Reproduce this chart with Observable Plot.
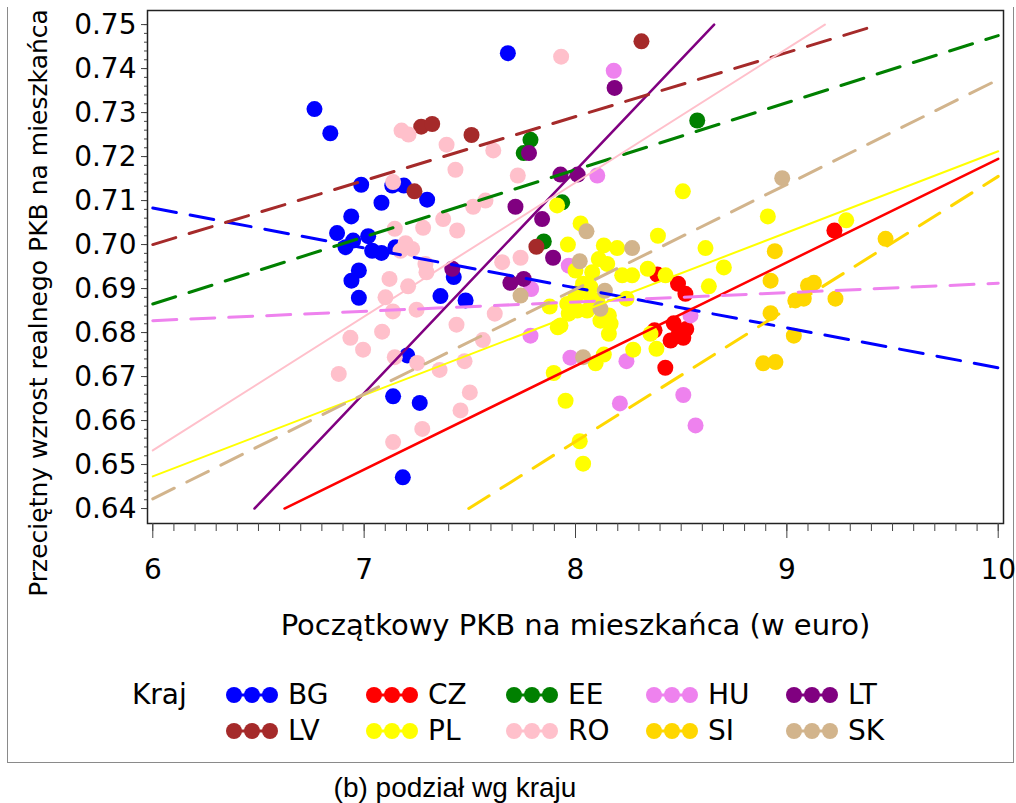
<!DOCTYPE html>
<html>
<head>
<meta charset="utf-8">
<script src="https://cdn.jsdelivr.net/npm/d3@7"></script>
<script src="https://cdn.jsdelivr.net/npm/@observablehq/plot@0.6"></script>
<style>
  body { margin: 0; background: #fff; }
  #page { position: relative; width: 1016px; height: 803px; overflow: hidden; background: #fff;
          font-family: "DejaVu Sans", Verdana, sans-serif; color: #000; }
  #box { position: absolute; left: 7px; top: 7px; width: 1005px; height: 755px;
         border: 1.5px solid #8a8a8a; border-top: none; }
  #chart { position: absolute; left: 0; top: 0; }
  .leg { position: absolute; height: 32px; line-height: 32px; font-size: 28px; white-space: nowrap;
         display: flex; align-items: center; }
  .leg svg { margin-right: 10px; }
  #caption { position: absolute; left: 0; width: 910px; top: 774px; text-align: center;
             font-family: "Liberation Sans", Arial, sans-serif; font-size: 28px; line-height: 28px; }
</style>
</head>
<body>
<div id="page">
  <div id="box"></div>
  <div id="chart"></div>
  <div id="legend"></div>
  <div id="caption">(b) podział wg kraju</div>
</div>
<script>
// Countries, their colours and whether the fitted line is dashed
const countries = ["BG", "CZ", "EE", "HU", "LT", "LV", "PL", "RO", "SI", "SK"];
const colors = ["#0000FF", "#FF0000", "#008000", "#EE82EE", "#800080",
                "#A52A2A", "#FFFF00", "#FFC0CB", "#FFD700", "#D2B48C"];
const dashed = [true, false, true, true, false, true, false, false, true, true];
const lineWidth = [3, 2.5, 3, 3, 2.5, 3, 2, 2, 3, 3];

// Observations: [initial GDP per capita, average real growth]
const BG = [[7.68,.7435],[6.765,.7308],[6.84,.7253],[6.986,.7136],[7.133,.7134],[7.188,.7134],
  [7.082,.7095],[7.298,.7102],[6.939,.7064],[6.872,.7026],[7.019,.7019],[6.948,.7009],
  [6.912,.6994],[7.038,.6986],[7.082,.6981],[7.148,.6994],[6.975,.6941],[6.94,.6918],
  [6.975,.6879],[7.424,.6926],[7.361,.6883],[7.48,.6873],[7.204,.6748],[7.137,.6655],
  [7.263,.664],[7.183,.6471]];
const CZ = [[9.225,.7032],[8.387,.6932],[8.485,.6911],[8.52,.6888],[8.465,.6821],[8.524,.6808],
  [8.45,.6782],[8.51,.6788],[8.374,.6805],[8.425,.672],[8.49,.6800]];
const EE = [[8.576,.7282],[7.787,.7238],[7.755,.7208],[7.937,.7096],[7.85,.7007]];
const HU = [[8.181,.7395],[8.103,.7157],[7.976,.6743],[8.241,.6735],[8.544,.6839],[8.21,.6639],
  [8.51,.6658],[8.568,.6589],[7.787,.6793],[7.79,.6899],[7.968,.6952]];
const LT = [[8.185,.7356],[7.78,.7208],[7.929,.7159],[8.01,.7159],[7.716,.7086],[7.842,.7058],
  [7.894,.697],[7.417,.6945],[7.692,.6913],[7.755,.6922]];
const LV = [[8.312,.7462],[7.27,.7268],[7.322,.7274],[7.508,.7249],[7.238,.7121],[7.815,.6995]];
const PL = [[8.508,.7121],[8.91,.7064],[9.281,.7055],[8.615,.6992],[8.702,.6948],[8.39,.702],
  [8.024,.7048],[7.964,.70],[8.134,.6998],[8.197,.6992],[8.11,.6967],[8.15,.6956],[8.0,.6941],
  [8.079,.6937],[8.221,.693],[8.268,.693],[8.342,.6945],[8.426,.693],[7.913,.7089],[8.631,.6905],
  [8.241,.6877],[8.355,.6797],[8.273,.6761],[8.383,.6763],[8.134,.675],[8.095,.673],[7.953,.6645],
  [8.02,.6553],[8.036,.6502],[7.992,.6873],[8.024,.6895],[8.071,.6903],[8.103,.6873],[8.158,.6839],
  [8.166,.682],[8.118,.6827],[8.158,.6797],[7.929,.6816],[7.968,.6843],[7.878,.6859],[7.916,.6812],
  [7.897,.6708],[8.036,.6911],[8.0,.688],[7.961,.6865],[8.063,.6888],[8.008,.685],[8.055,.685]];
const RO = [[7.932,.7427],[7.177,.7259],[7.21,.725],[7.39,.7227],[7.611,.7214],[7.432,.717],
  [7.727,.7157],[7.137,.7142],[7.516,.7086],[7.574,.71],[7.374,.7058],[7.44,.7032],[7.279,.7038],
  [7.145,.7036],[7.196,.7003],[7.227,.699],[7.172,.6986],[7.29,.6956],[7.295,.6937],[7.653,.696],
  [7.74,.697],[7.12,.6922],[7.208,.6905],[7.101,.688],[7.136,.6848],[7.248,.6852],[7.618,.6843],
  [7.437,.6818],[7.085,.6802],[6.935,.6788],[7.562,.6783],[6.995,.6761],[6.88,.6706],[7.145,.6744],
  [7.251,.6731],[7.357,.6715],[7.475,.6735],[7.5,.6664],[7.456,.6623],[7.275,.6581],[7.137,.6551]];
const SI = [[9.467,.7013],[8.943,.6985],[8.923,.6918],[9.10,.6907],[9.128,.6913],[9.04,.6873],
  [9.08,.6877],[9.23,.6877],[8.923,.6844],[9.033,.6793],[8.888,.673],[8.946,.6733]];
const SK = [[8.978,.7151],[8.268,.6992],[8.052,.703],[8.02,.6962],[8.139,.6895],[8.118,.6854],
  [8.036,.6744],[7.74,.6884]];
const series = [BG, CZ, EE, HU, LT, LV, PL, RO, SI, SK];

// Fitted regression lines, visible start and end points per country
const fitX0 = [6, 6.623, 6, 6, 6.481, 6, 6, 6, 7.495, 6];
const fitY0 = [.7083, .64, .6865, .6827, .64, .700, .6473, .6532, .64, .6422];
const fitX1 = [10, 10, 10, 10, 8.656, 9.438, 10, 9.18, 10, 10];
const fitY1 = [.6720, .7195, .7475, .6912, .75, .75, .7212, .75, .7155, .7375];

// Axis ticks and labels
const xTicks = [6, 7, 8, 9, 10];
const yTicks = [0.64, 0.65, 0.66, 0.67, 0.68, 0.69, 0.70, 0.71, 0.72, 0.73, 0.74, 0.75];
const xMinor = d3.range(60, 101).map(d => d / 10);
const yMinor = d3.range(320, 376).map(d => d / 500);
const xLabel = "Początkowy PKB na mieszkańca (w euro)";
const yLabel = "Przeciętny wzrost realnego PKB na mieszkańca";
const legendTitle = "Kraj";

const points = [];
countries.forEach((c, i) => series[i].forEach(([x, y]) => points.push({country: c, x, y})));
const fits = countries.map((c, i) => [
  {country: c, x: fitX0[i], y: fitY0[i]},
  {country: c, x: fitX1[i], y: fitY1[i]}
]);

const font = "DejaVu Sans, Verdana, sans-serif";

const chart = Plot.plot({
  width: 1016,
  height: 665,
  marginLeft: 147,
  marginRight: 13,
  marginTop: 10,
  marginBottom: 142,
  x: {domain: [5.975, 10.025]},
  y: {domain: [0.6366, 0.7532]},
  color: {domain: countries, range: colors},
  style: {fontFamily: font, fontSize: "28px", color: "#000", background: "transparent"},
  marks: [
    Plot.dot(points, {x: "x", y: "y", r: 8, fill: "country"}),
    ...countries.map((c, i) => Plot.line(fits[i], {
      x: "x", y: "y", stroke: "country", strokeWidth: lineWidth[i],
      strokeDasharray: dashed[i] ? "24,14" : null
    })),
    Plot.frame({stroke: "#222", strokeWidth: 1.5}),
    Plot.axisX({ticks: xMinor, tickSize: 8, tickFormat: () => "", label: null, stroke: "#444"}),
    Plot.axisX({ticks: xTicks, tickSize: 15, tickPadding: 21, tickFormat: d => String(d), label: null,
                fontSize: 28, stroke: "#444", fill: "#000"}),
    Plot.axisY({ticks: yMinor, tickSize: 3, tickFormat: () => "", label: null, stroke: "#444"}),
    Plot.axisY({ticks: yTicks, tickSize: 6, tickPadding: 5, tickFormat: d3.format(".2f"), label: null,
                fontSize: 28, stroke: "#444", fill: "#000"}),
    Plot.text([xLabel], {text: d => d, frameAnchor: "bottom", dy: 111, fontSize: 29, fill: "#000"}),
    Plot.text([yLabel], {text: d => d, frameAnchor: "left", textAnchor: "middle", rotate: -90,
                         dx: -109, dy: 36, fontSize: 25, fill: "#000"})
  ]
});
document.getElementById("chart").appendChild(chart);

// Legend: title plus two rows of five country swatches
const legend = document.getElementById("legend");
const title = document.createElement("div");
title.className = "leg";
title.style.left = "132px";
title.style.top = "679px";
title.textContent = legendTitle;
legend.appendChild(title);
countries.forEach((c, i) => {
  const row = Math.floor(i / 5), col = i % 5;
  const item = document.createElement("div");
  item.className = "leg";
  item.style.left = (226 + col * 140) + "px";
  item.style.top = (679 + row * 36) + "px";
  const ns = "http://www.w3.org/2000/svg";
  const sw = document.createElementNS(ns, "svg");
  sw.setAttribute("width", 52);
  sw.setAttribute("height", 18);
  const ln = document.createElementNS(ns, "line");
  ln.setAttribute("x1", 8); ln.setAttribute("x2", 44);
  ln.setAttribute("y1", 9); ln.setAttribute("y2", 9);
  ln.setAttribute("stroke", colors[i]); ln.setAttribute("stroke-width", 3);
  sw.appendChild(ln);
  [8, 26, 44].forEach(cx => {
    const ci = document.createElementNS(ns, "circle");
    ci.setAttribute("cx", cx); ci.setAttribute("cy", 9); ci.setAttribute("r", 8);
    ci.setAttribute("fill", colors[i]);
    sw.appendChild(ci);
  });
  item.appendChild(sw);
  const label = document.createElement("span");
  label.textContent = c;
  item.appendChild(label);
  legend.appendChild(item);
});
</script>
</body>
</html>
